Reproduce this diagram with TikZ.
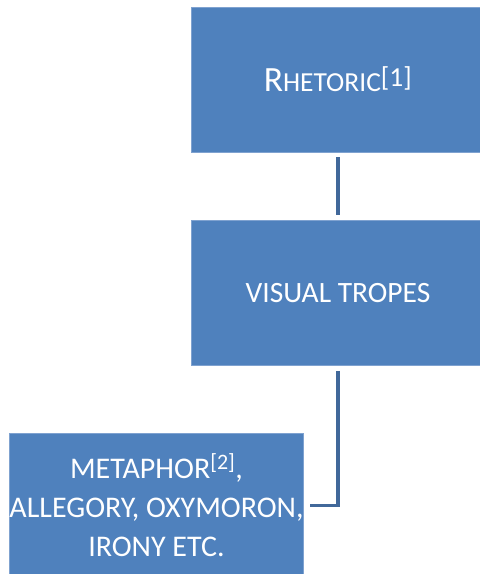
\documentclass[tikz,border=0pt]{standalone}
\usepackage{fontspec}
\setmainfont{Carlito}
\usepackage{xcolor}
\usepackage{tikz}

\definecolor{boxblue}{HTML}{4F81BD}
\definecolor{boxedge}{HTML}{7FA2D0}
\definecolor{linkblue}{HTML}{41689A}

\tikzset{
	trope/.style={fill=boxblue, draw=boxedge, line width=0.6pt, text=white,
		minimum width=294pt, minimum height=145pt, inner sep=0pt, align=center},
	link/.style={draw=linkblue, line width=3.5pt}
}

\begin{document}
\begin{tikzpicture}[x=1pt,y=-1pt]
				\useasboundingbox[fill=white] (0,0) rectangle (480,574);
				
				% top box
				\node[trope] (rhet) at (338,79.5)
					{{\fontsize{35.5}{40}\selectfont R}{\fontsize{27.5}{40}\selectfont HETORIC}\textsuperscript{\fontsize{27.5}{32}\selectfont[1]}};
				
				% middle box
				\node[trope, font=\fontsize{29.5}{39}\selectfont] (vis) at (338,293)
					{VISUAL TROPES};
				
				% bottom box (left)
				\node[trope, font=\fontsize{30}{39}\selectfont] (meta) at (156.5,505.5)
					{METAPHOR\textsuperscript{\fontsize{22}{26}\selectfont[2]},\\ALLEGORY, OXYMORON,\\IRONY ETC.};
				
				\draw[link, shorten <=5pt, shorten >=5pt] (rhet) -- (vis);
				\draw[link, shorten <=5pt, shorten >=6pt] (vis.south) |- (meta.east);
\end{tikzpicture}
\end{document}
